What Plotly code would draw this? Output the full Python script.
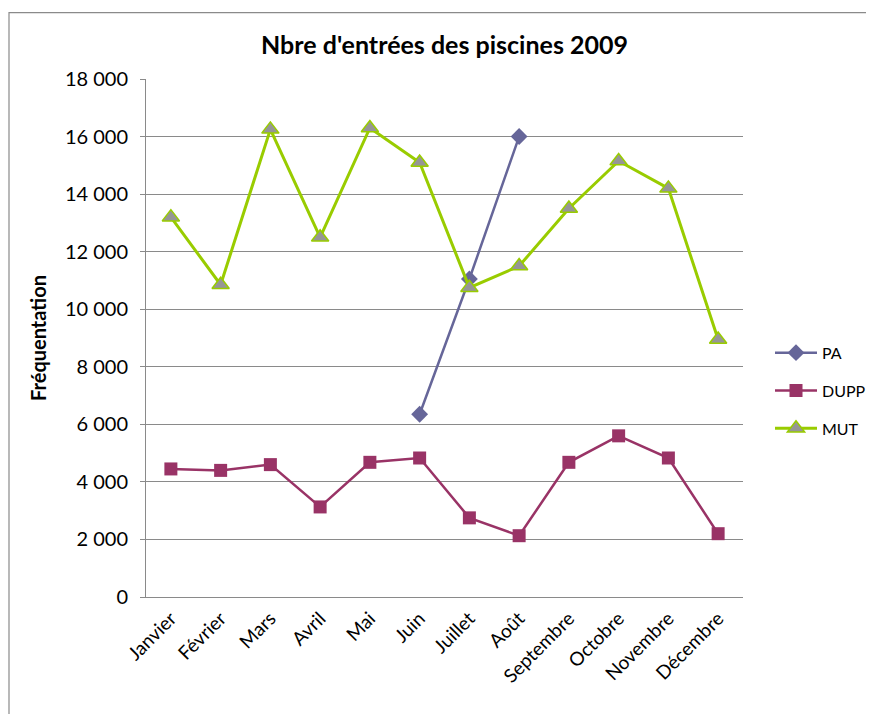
import plotly.graph_objects as go

mois = ["Janvier", "Février", "Mars", "Avril", "Mai", "Juin", "Juillet",
        "Août", "Septembre", "Octobre", "Novembre", "Décembre"]
pa = [None, None, None, None, None, 6350, 11050, 16000, None, None, None, None]
dupp = [4450, 4400, 4600, 3130, 4680, 4830, 2750, 2130, 4680, 5600, 4830, 2200]
mut = [13200, 10850, 16250, 12500, 16300, 15100, 10750, 11500, 13500, 15150, 14200, 8950]
y_ticks = [0, 2000, 4000, 6000, 8000, 10000, 12000, 14000, 16000, 18000]

FONT = "Lato, Carlito, 'Open Sans', sans-serif"

fig = go.Figure()
fig.add_trace(go.Scatter(
    x=mois, y=pa, name="PA", mode="lines+markers", legendgroup="a",
    line=dict(color="#666699", width=2.5),
    marker=dict(symbol="diamond", size=13, color="#666699")))
fig.add_trace(go.Scatter(
    x=mois, y=dupp, name="DUPP", mode="lines+markers", legendgroup="b",
    line=dict(color="#993366", width=2.5),
    marker=dict(symbol="square", size=13, color="#993366")))
fig.add_trace(go.Scatter(
    x=mois, y=mut, name="MUT", mode="lines+markers", legendgroup="c",
    line=dict(color="#99CC00", width=3),
    marker=dict(symbol="triangle-up", size=15, color="#969696",
                line=dict(color="#99CC00", width=1.5))))

# page body has an 8px margin, so the figure is 8px smaller than the window
W, H = 866, 706
L, R, T, B = 138, 131, 71, 116.5
pw, ph = W - L - R, H - T - B

def px(x):
    return (x - L) / pw

def py(y):
    return (H - B - y) / ph

fig.add_shape(type="rect", xref="paper", yref="paper",
              x0=px(1), x1=px(859), y0=py(760), y1=py(4.5),
              line=dict(color="#8a8a8a", width=1.2), fillcolor="rgba(0,0,0,0)",
              layer="below")

fig.update_layout(
    width=W, height=H,
    margin=dict(l=L, r=R, t=T, b=B, autoexpand=False),
    paper_bgcolor="white", plot_bgcolor="white",
    separators=", ",
    font=dict(family=FONT, size=17, color="#000000"),
    title=dict(text="<b>Nbre d'entrées des piscines 2009</b>",
               x=0.5, xref="paper", xanchor="center",
               y=1 - 37 / H, yref="container", yanchor="middle",
               font=dict(family=FONT, size=25, color="#000000")),
    showlegend=True,
    legend=dict(x=px(762), xanchor="left", y=py(328), yanchor="top",
                font=dict(family=FONT, size=16, color="#000000"),
                tracegroupgap=14, itemwidth=42, bgcolor="rgba(0,0,0,0)",
                borderwidth=0),
    xaxis=dict(type="category", range=[-0.5, 11.5], tickangle=-45,
               showgrid=False, showline=True, linecolor="#8a8a8a", linewidth=1,
               ticks="", tickfont=dict(family=FONT, size=19, color="#000000"),
               ticklabelstandoff=2, automargin=False),
    yaxis=dict(range=[0, 18000], tickvals=y_ticks, tickformat=",d",
               showgrid=True, gridcolor="#8a8a8a", gridwidth=1,
               showline=True, linecolor="#8a8a8a", linewidth=1,
               ticks="outside", ticklen=5, tickcolor="#8a8a8a",
               ticklabelstandoff=8, zeroline=False, automargin=False,
               tickfont=dict(family=FONT, size=20, color="#000000"),
               title=dict(text="<b>Fréquentation</b>", standoff=12,
                          font=dict(family=FONT, size=20, color="#000000"))),
)

fig.write_html("out.html")
